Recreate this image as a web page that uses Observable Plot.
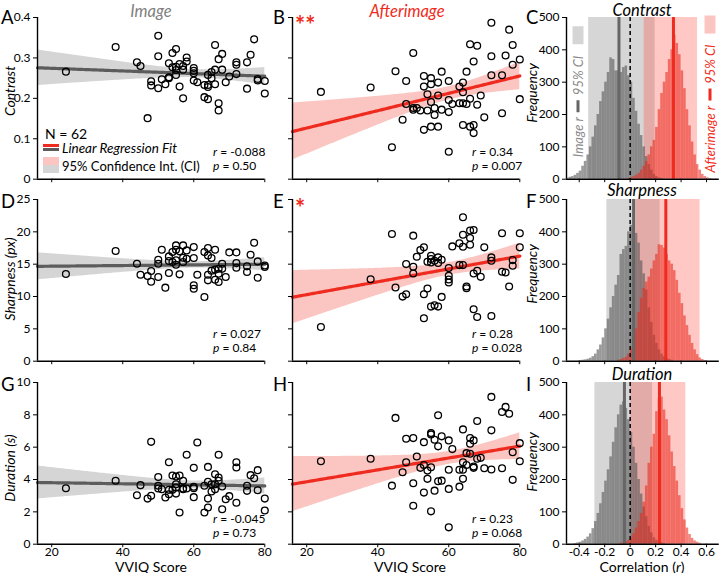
<!DOCTYPE html>
<html>
<head>
<meta charset="utf-8">
<script src="https://cdn.jsdelivr.net/npm/d3@7"></script>
<script src="https://cdn.jsdelivr.net/npm/@observablehq/plot@0.6"></script>
<style>
html, body { margin: 0; padding: 0; overflow: hidden; background: white; }
#fig { position: relative; width: 720px; height: 573px; overflow: hidden; background: white; font-family: Lato, "Open Sans", sans-serif; }
#fig svg { overflow: visible; }
</style>
</head>
<body>
<div id="fig"></div>
<script>
// ---------------- data ----------------
const vviq = [24,38,44,45,47,48,48,50,50,50,51,52,53,53,53,54,54,55,55,55,55,56,56,57,57,57,58,58,60,60,60,60,61,63,63,64,64,64,64,65,65,66,66,66,67,67,67,68,68,69,70,72,72,72,75,75,76,77,78,78,80,80];

const imageContrast = [0.266,0.327,0.289,0.280,0.151,0.242,0.232,0.355,0.304,0.225,0.247,0.235,0.287,0.252,0.250,0.312,0.277,0.322,0.278,0.258,0.270,0.229,0.285,0.200,0.271,0.280,0.301,0.291,0.275,0.268,0.244,0.262,0.240,0.233,0.203,0.258,0.233,0.228,0.198,0.265,0.250,0.332,0.271,0.235,0.297,0.188,0.170,0.310,0.271,0.240,0.254,0.289,0.283,0.260,0.289,0.224,0.308,0.346,0.248,0.244,0.243,0.212];
const afterContrast = [0.216,0.227,0.079,0.267,0.147,0.243,0.186,0.312,0.176,0.172,0.176,0.170,0.255,0.229,0.122,0.210,0.170,0.250,0.235,0.191,0.130,0.176,0.159,0.239,0.207,0.130,0.266,0.172,0.243,0.196,0.166,0.068,0.186,0.229,0.188,0.239,0.215,0.188,0.134,0.266,0.186,0.334,0.199,0.130,0.291,0.134,0.114,0.330,0.184,0.207,0.153,0.387,0.304,0.257,0.257,0.163,0.306,0.370,0.332,0.283,0.296,0.198];
const imageSharpness = [13.48,17.03,15.07,13.37,13.17,13.94,12.29,15.69,15.07,13.01,17.23,11.37,16.20,13.63,15.5,16.87,15.33,17.90,17.23,15.59,14.92,16.98,13.43,17.90,16.00,15.33,17.13,15.84,17.64,15.95,11.73,11.21,13.37,16.87,9.93,17.49,16.36,13.37,12.50,15.95,14.0,17.23,14.15,12.60,14.30,13.53,12.24,15.07,14.30,13.01,16.82,16.82,15.17,14.45,14.66,13.79,16.46,18.31,15.43,12.91,14.56,14.8];
const afterSharpness = [5.28,12.68,19.67,11.39,9.99,15.01,10.35,19.41,14.60,13.56,16.15,17.18,17.60,10.35,6.63,15.37,11.23,16.30,15.27,8.44,15.8,15.53,8.64,16.05,8.44,15.2,15.68,9.94,14.39,13.20,12.63,12.16,17.75,18.22,14.86,22.26,19.56,17.70,14.86,11.54,11.28,20.19,19.05,18.01,20.29,13.56,8.02,13.97,6.83,13.04,17.60,16.05,15.53,6.99,19.77,13.82,13.72,11.54,15.63,14.75,19.77,17.60];
const imageDuration = [3.46,3.92,3.03,3.65,2.82,6.33,2.99,4.16,3.61,3.44,3.40,2.89,5.07,3.36,3.09,4.25,3.36,4.19,3.71,3.13,3.5,4.25,1.96,3.92,3.40,3.45,5.53,3.44,4.72,3.46,2.91,3.55,6.29,3.61,1.96,4.78,3.86,2.82,2.27,3.26,3.7,4.33,3.71,3.40,5.53,4.12,3.92,3.57,2.16,2.78,2.97,5.07,4.74,2.56,3.61,3.30,4.27,4.08,4.58,3.34,2.82,2.08];
const afterDuration = [5.13,5.28,3.62,7.81,4.45,6.52,5.07,6.56,3.77,2.38,5.42,4.72,6.31,3.19,4.9,4.55,4.04,6.87,6.79,4.76,2.03,6.46,3.31,7.97,6.05,3.89,6.67,3.93,6.42,4.60,3.42,1.04,5.88,4.60,3.56,7.10,5.07,4.60,4.04,5.63,4.9,6.56,6.21,5.59,6.42,4.80,4.72,7.62,5.28,5.34,4.70,9.11,7.04,4.62,8.18,4.70,8.49,8.07,5.69,3.98,6.25,5.13];

const measures = ["Contrast", "Sharpness", "Duration"];
const yLabels = ["Contrast", "Sharpness (px)", "Duration (s)"];
const yDomains = [[0, 0.4], [0, 25], [0, 10]];
const yTicks = [[0, 0.1, 0.2, 0.3, 0.4], [0, 5, 10, 15, 20, 25], [0, 2, 4, 6, 8, 10]];
const xTicks = [20, 40, 60, 80];
const imageR = [-0.088, 0.027, -0.045];
const imageP = ["0.50", "0.84", "0.73"];
const afterR = [0.34, 0.28, 0.23];
const afterP = ["0.007", "0.028", "0.068"];
const afterStars = ["**", "*", ""];

// bootstrap histograms of r (bin width 0.02, first bin left edge given)
const binWidth = 0.02;
const contrastImgStart = -0.50;
const contrastImgCounts = [3,6,8,12,18,25,40,55,75,100,130,165,200,240,270,300,330,375,370,335,335,330,345,350,320,300,250,210,170,135,100,70,45,28,15,8,4,2];
const contrastAftStart = -0.02;
const contrastAftCounts = [2,5,8,12,18,28,40,55,75,100,120,160,215,265,300,330,370,400,445,420,385,335,280,215,165,115,75,45,28,15,8,4,2];
const sharpImgStart = -0.40;
const sharpImgCounts = [2,3,4,6,9,14,22,35,50,72,100,130,165,200,235,265,330,345,355,400,420,415,395,365,310,270,220,165,120,80,55,35,22,14,8,5,3];
const sharpAftStart = -0.10;
const sharpAftCounts = [3,5,8,12,22,40,70,100,150,195,225,245,260,285,310,330,360,358,350,330,310,300,280,250,210,178,140,110,80,55,35,20,10,5,2];
const durImgStart = -0.44;
const durImgCounts = [2,4,6,10,15,22,32,48,70,95,125,160,195,230,270,315,360,400,430,440,420,385,345,300,250,200,155,115,85,55,35,20,12,7,4,2];
const durAftStart = -0.08;
const durAftCounts = [3,5,8,12,20,32,50,70,95,130,180,250,300,340,410,450,455,415,385,335,285,240,195,150,110,75,50,30,18,10,6,3];

const imageCI = [[-0.326, 0.196], [-0.183, 0.235], [-0.277, 0.176]];
const afterCI = [[0.110, 0.529], [0.045, 0.549], [0.005, 0.437]];
const rTicks = [-0.4, -0.2, 0, 0.2, 0.4, 0.6];
const freqTicks = [0, 100, 200, 300, 400, 500];

// ---------------- styling ----------------
const FONT = 'Lato, "Open Sans", sans-serif';
const RED = "#ef2b20";
const GRAYLINE = "#5c5c5c";
const fig = document.getElementById("fig");

const colLeft = [36.7, 292, 565.7];
const colWidth = [227.3, 227.3, 152.8];
const rowTop = [16.5, 199, 381.7];
const rowH = 161.7;
const mL = 40, mT = 6, mB = 22;

function place(el, left, top) {
  el.style.position = "absolute";
  el.style.left = left + "px";
  el.style.top = top + "px";
  fig.appendChild(el);
}

function addText(html, x, y, o = {}) {
  const el = document.createElement("div");
  el.innerHTML = html;
  el.style.position = "absolute";
  el.style.left = x + "px";
  el.style.top = y + "px";
  el.style.whiteSpace = "nowrap";
  el.style.lineHeight = "1";
  el.style.fontSize = (o.size || 12) + "px";
  el.style.color = o.color || "black";
  if (o.italic) el.style.fontStyle = "italic";
  if (o.weight) el.style.fontWeight = o.weight;
  const tx = o.anchor === "start" ? "0" : "-50%";
  el.style.transform = `translate(${tx},-50%)` + (o.rotate ? " rotate(-90deg)" : "");
  fig.appendChild(el);
  return el;
}

function fitBand(xs, ys, x0, x1) {
  const n = xs.length, mx = d3.mean(xs), my = d3.mean(ys);
  let sxx = 0, sxy = 0;
  for (let i = 0; i < n; i++) { sxx += (xs[i] - mx) ** 2; sxy += (xs[i] - mx) * (ys[i] - my); }
  const b = sxy / sxx, a = my - b * mx;
  let sse = 0;
  for (let i = 0; i < n; i++) sse += (ys[i] - a - b * xs[i]) ** 2;
  const s = Math.sqrt(sse / (n - 2)), t = 2.0003;
  return d3.range(x0, x1 + 0.001, 0.5).map(x => {
    const yhat = a + b * x;
    const se = s * Math.sqrt(1 / n + (x - mx) ** 2 / sxx);
    return {x, yhat, lo: yhat - t * se, hi: yhat + t * se};
  });
}

function fmtNum(d) { return d === 0 ? "0" : String(d); }

function scatterPanel(row, col, ys) {
  const isAfter = col === 1;
  const data = vviq.map((x, i) => ({x, y: ys[i]}));
  const fit = fitBand(vviq, ys, 16, 80);
  const W = colWidth[col];
  const svg = Plot.plot({
    width: mL + W + 8, height: mT + rowH + mB,
    marginLeft: mL, marginRight: 8, marginTop: mT, marginBottom: mB,
    x: {domain: [16, 80]}, y: {domain: yDomains[row]},
    style: {fontFamily: FONT, fontSize: "12px", background: "transparent", color: "black"},
    marks: [
      Plot.areaY(fit, {x: "x", y1: "lo", y2: "hi", fill: isAfter ? "#fbc6c1" : "#d5d5d5"}),
      Plot.line(fit, {x: "x", y: "yhat", stroke: isAfter ? RED : GRAYLINE, strokeWidth: 3.2}),
      Plot.dot(data, {x: "x", y: "y", r: 3.4, stroke: "black", strokeWidth: 1.3, fill: "none"}),
      Plot.axisX({ticks: xTicks, tickSize: 3.5, tickPadding: 0, label: null,
        tickFormat: row === 2 ? d => String(d) : () => ""}),
      Plot.axisY({ticks: yTicks[row], tickSize: 4, tickPadding: 3, label: null,
        tickFormat: col === 0 ? fmtNum : () => ""}),
      Plot.ruleY([yDomains[row][0]], {stroke: "black", strokeWidth: 1.4}),
      Plot.ruleX([16], {stroke: "black", strokeWidth: 1.4})
    ]
  });
  place(svg, colLeft[col] - mL, rowTop[row] - mT);
}

function binsOf(start, counts) {
  return counts.map((c, i) => ({x1: start + i * binWidth, x2: start + (i + 1) * binWidth, count: c}));
}

function histPanel(row, imgBins, aftBins) {
  const W = colWidth[2];
  const svg = Plot.plot({
    width: mL + W + 2, height: mT + rowH + mB,
    marginLeft: mL, marginRight: 2, marginTop: mT, marginBottom: mB,
    x: {domain: [-0.5, 0.7]}, y: {domain: [0, 500]},
    style: {fontFamily: FONT, fontSize: "12px", background: "transparent", color: "black"},
    marks: [
      Plot.rect([imageCI[row]], {x1: d => d[0], x2: d => d[1], fill: "#999999", fillOpacity: 0.4}),
      Plot.rect([afterCI[row]], {x1: d => d[0], x2: d => d[1], fill: "#ff4a3a", fillOpacity: 0.3}),
      Plot.rectY(imgBins, {x1: "x1", x2: "x2", y: "count", fill: "#555555", fillOpacity: 0.6}),
      Plot.rectY(aftBins, {x1: "x1", x2: "x2", y: "count", fill: "#ea2a1e", fillOpacity: 0.58}),
      Plot.ruleX([imageR[row]], {stroke: "#666666", strokeWidth: 3}),
      Plot.ruleX([afterR[row]], {stroke: RED, strokeWidth: 3}),
      Plot.ruleX([0], {stroke: "black", strokeWidth: 1.5, strokeDasharray: "4,3"}),
      Plot.axisX({ticks: rTicks, tickSize: 3.5, tickPadding: 0, label: null,
        tickFormat: row === 2 ? fmtNum : () => ""}),
      Plot.axisY({ticks: freqTicks, tickSize: 4, tickPadding: 3, label: null, tickFormat: fmtNum}),
      Plot.ruleY([0], {stroke: "black", strokeWidth: 1.4}),
      Plot.ruleX([-0.5], {stroke: "black", strokeWidth: 1.4})
    ]
  });
  place(svg, colLeft[2] - mL, rowTop[row] - mT);
}

// ---------------- draw ----------------
const imageSeries = [imageContrast, imageSharpness, imageDuration];
const afterSeries = [afterContrast, afterSharpness, afterDuration];
const histData = [
  [binsOf(contrastImgStart, contrastImgCounts), binsOf(contrastAftStart, contrastAftCounts)],
  [binsOf(sharpImgStart, sharpImgCounts), binsOf(sharpAftStart, sharpAftCounts)],
  [binsOf(durImgStart, durImgCounts), binsOf(durAftStart, durAftCounts)]
];

for (let r = 0; r < 3; r++) {
  scatterPanel(r, 0, imageSeries[r]);
  scatterPanel(r, 1, afterSeries[r]);
  histPanel(r, histData[r][0], histData[r][1]);
}

// titles
addText("Image", 151, 11, {size: 16.5, italic: true, color: "#808080"});
addText("Afterimage", 407, 11, {size: 16.5, italic: true, color: RED});
measures.forEach((m, r) => addText(m, 642, [9.5, 190, 374][r], {size: 16.5, italic: true}));

// panel letters
const letters = [["A", "B", "C"], ["D", "E", "F"], ["G", "H", "I"]];
const letterX = [1, 273, 526];
const letterY = [17, 201, 384];
letters.forEach((row, r) => row.forEach((L, c) => addText(L, letterX[c], letterY[r], {size: 18.5, anchor: "start"})));

// axis labels
yLabels.forEach((t, r) => addText(t, 10, [91, 279, 468][r], {size: 14, italic: true, rotate: true}));
[93, 274, 462].forEach(y => addText("Frequency", 532, y, {size: 14, italic: true, rotate: true}));
addText("VVIQ Score", 151, 566.5, {size: 14});
addText("VVIQ Score", 410, 566.5, {size: 14});
addText("Correlation (<i>r</i>)", 642, 566.5, {size: 14});

// stats text
const statY = [[152, 166], [333.5, 347.5], [518.5, 532.5]];
for (let r = 0; r < 3; r++) {
  addText(`<i>r</i> = ${String(imageR[r])}`, 213, statY[r][0], {size: 12, anchor: "start"});
  addText(`<i>p</i> = ${imageP[r]}`, 213, statY[r][1], {size: 12, anchor: "start"});
  addText(`<i>r</i> = ${String(afterR[r])}`, 472, statY[r][0], {size: 12, anchor: "start"});
  addText(`<i>p</i> = ${afterP[r]}`, 472, statY[r][1], {size: 12, anchor: "start"});
  if (afterStars[r]) addText(afterStars[r], 295, [25, 208, 390][r], {size: 24, color: RED, weight: "bold", anchor: "start"});
}

// legend in panel A
addText(`N = ${vviq.length}`, 45, 133.5, {size: 14, anchor: "start"});
function swatch(x, y, w, h, color) {
  const d = document.createElement("div");
  d.style.cssText = `position:absolute;left:${x}px;top:${y}px;width:${w}px;height:${h}px;background:${color}`;
  fig.appendChild(d);
}
swatch(43, 144, 16, 3, RED);
swatch(43, 148, 16, 3, GRAYLINE);
addText("Linear Regression Fit", 62, 148.5, {size: 13.5, italic: true, anchor: "start"});
swatch(43, 157, 16, 8, "#fbc6c1");
swatch(43, 165, 16, 8, "#d5d5d5");
addText("95% Confidence Int. (CI)", 62, 166, {size: 13, anchor: "start"});

// vertical legends in panel C
function vLegend(cx, cy, label, color, lineColor, rectColor) {
  const el = document.createElement("div");
  el.style.cssText = `position:absolute;left:${cx}px;top:${cy}px;transform:translate(-50%,-50%) rotate(-90deg);white-space:nowrap;display:flex;align-items:center;gap:5px;font-size:13px;line-height:1;color:${color};font-style:italic;`;
  el.innerHTML = `<span>${label}</span><span style="display:inline-block;width:12px;height:3px;background:${lineColor}"></span><span>95% CI</span><span style="display:inline-block;width:18px;height:11px;background:${rectColor};margin-left:6px"></span>`;
  fig.appendChild(el);
}
vLegend(578, 92, "Image <i>r</i>", "#8a8a8a", "#666666", "#d5d5d5");
vLegend(710, 94, "Afterimage <i>r</i>", RED, RED, "#fbc6c1");
</script>
</body>
</html>
